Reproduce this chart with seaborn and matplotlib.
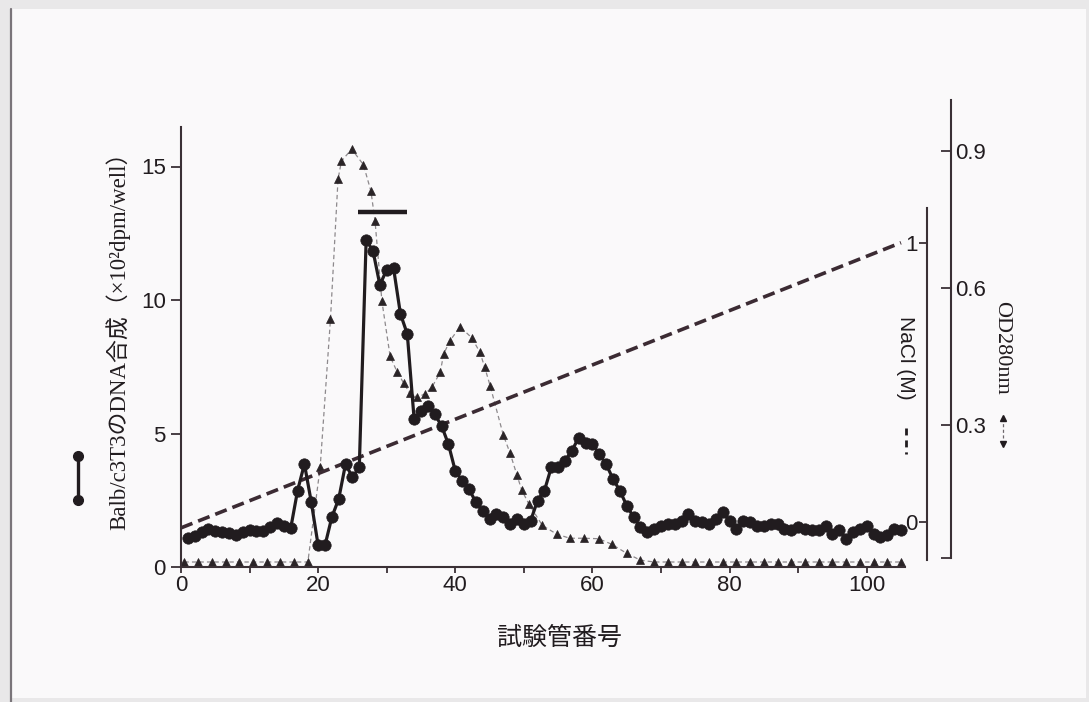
import matplotlib
matplotlib.use("Agg")
import matplotlib.pyplot as plt
from matplotlib.lines import Line2D
from matplotlib.patches import Rectangle
from matplotlib.ticker import FixedLocator, NullLocator
import seaborn as sns

# ---------------- data ----------------
tube = list(range(1, 106))
dna_synthesis = [
    1.10, 1.15, 1.30, 1.43, 1.35, 1.30, 1.28, 1.18, 1.30, 1.40,
    1.35, 1.35, 1.50, 1.66, 1.55, 1.45, 2.86, 3.86, 2.43, 0.81,
    0.81, 1.87, 2.55, 3.86, 3.36, 3.73, 12.25, 11.84, 10.57, 11.13,
    11.19, 9.48, 8.73, 5.53, 5.85, 6.03, 5.72, 5.29, 4.60, 3.60,
    3.23, 2.92, 2.43, 2.11, 1.80, 2.00, 1.87, 1.62, 1.80, 1.62,
    1.74, 2.49, 2.86, 3.73, 3.73, 3.98, 4.35, 4.85, 4.66, 4.60,
    4.23, 3.85, 3.30, 2.86, 2.30, 1.87, 1.49, 1.31, 1.43, 1.55,
    1.62, 1.62, 1.74, 1.99, 1.74, 1.68, 1.62, 1.80, 2.05, 1.74,
    1.43, 1.74, 1.68, 1.55, 1.55, 1.60, 1.62, 1.43, 1.37, 1.49,
    1.43, 1.40, 1.37, 1.55, 1.24, 1.37, 1.06, 1.31, 1.43, 1.55,
    1.24, 1.12, 1.18, 1.43, 1.37,
]

od_tube = [
    0.5, 2.5, 4.5, 6.5, 8.5, 10.5, 12.5, 14.5, 16.5, 18.5,
    20.3, 21.8, 22.9, 23.4, 24.9, 26.6, 27.7, 28.3, 29.3, 30.5,
    31.5, 32.5, 33.4, 34.4, 35.6, 36.6, 37.8, 38.3, 39.2, 40.7,
    42.4, 43.6, 44.3, 45.1, 47.0, 48.0, 49.0, 49.7, 50.7, 52.7,
    54.8, 56.7, 58.7, 60.9, 62.8, 65.0, 67.0, 69, 71, 73,
    75, 77, 79, 81, 83, 85, 87, 89, 91, 93,
    95, 97, 99, 101, 103, 105,
]
od280 = [
    0, 0, 0, 0, 0, 0, 0, 0, 0, 0,
    0.208, 0.532, 0.838, 0.878, 0.904, 0.870, 0.812, 0.746, 0.571, 0.450,
    0.417, 0.391, 0.369, 0.361, 0.368, 0.383, 0.415, 0.455, 0.484, 0.515,
    0.491, 0.459, 0.426, 0.385, 0.278, 0.238, 0.190, 0.157, 0.128, 0.080,
    0.061, 0.052, 0.052, 0.051, 0.039, 0.019, 0.004, 0, 0, 0,
    0, 0, 0, 0, 0, 0, 0, 0, 0, 0,
    0, 0, 0, 0, 0, 0,
]

nacl_tube = [0, 105]
nacl_molar = [-0.02, 1.0]

active_bar_tube = [25.8, 33.0]
active_bar_level = [13.3, 13.3]

x_ticks = [0, 20, 40, 60, 80, 100]
x_minor_ticks = [10, 30, 50, 70, 90]
y_ticks = [0, 5, 10, 15]
nacl_ticks = [0, 1]
od_ticks = [0.3, 0.6, 0.9]

xlabel_text = "試験管番号"
ylabel_text = "Balb/c3T3のDNA合成（×10²dpm/well）"
nacl_label = "NaCl (M)"
od_label = "OD280nm"

# ---------------- style ----------------
W, H = 1089, 702
INK = "#211c1f"
AXC = "#3a3035"

sns.set_style("ticks")
plt.rcParams["font.family"] = ["Liberation Sans", "Noto Sans CJK JP"]
plt.rcParams["axes.linewidth"] = 1.5


def fx(px):
    return px / W


def fy(py):
    return 1 - py / H


fig = plt.figure(figsize=(W / 100, H / 100), dpi=100)
fig.patch.set_facecolor("#e9e8e9")
fig.add_artist(Rectangle((fx(12), fy(698)), fx(1086) - fx(12), fy(9) - fy(698),
                         transform=fig.transFigure, facecolor="#faf9fa",
                         edgecolor="none", zorder=-10))
fig.add_artist(Line2D([fx(11), fx(11)], [fy(9), fy(702)], transform=fig.transFigure,
                      color="#7a757a", lw=1.6, zorder=-9))

PXU = 6.857  # pixels per tube

# main axes (DNA synthesis)
ax = fig.add_axes([fx(181), fy(567), (905 - 181) / W, (567 - 127) / H])
ax.set_xlim(0, (905 - 181) / PXU)
ax.set_ylim(0, (567 - 127) / 26.7)

# NaCl axes
ax_nacl = fig.add_axes([fx(181), fy(560), (927 - 181) / W, (560 - 208) / H])
ax_nacl.set_xlim(0, (927 - 181) / PXU)
ax_nacl.set_ylim((522.3 - 560) / 279.6, (522.3 - 208) / 279.6)

# OD axes
ax_od = fig.add_axes([fx(181), fy(558), (951 - 181) / W, (558 - 100) / H])
ax_od.set_xlim(0, (951 - 181) / PXU)
ax_od.set_ylim((562 - 558) / 456.7, (562 - 100) / 456.7)

for a, z in ((ax_od, 1), (ax_nacl, 2), (ax, 3)):
    a.set_zorder(z)
    a.patch.set_visible(False)

# ---- OD280 (triangles, thin dashed) ----
sns.lineplot(x=od_tube, y=od280, ax=ax_od, errorbar=None, sort=False,
             color="#8d898c", linewidth=0.9, linestyle=(0, (3.5, 2.5)),
             marker="^", markersize=6, markerfacecolor="#2a2427",
             markeredgecolor="#2a2427", markeredgewidth=0.5, clip_on=False)

# ---- NaCl gradient ----
sns.lineplot(x=nacl_tube, y=nacl_molar, ax=ax_nacl, errorbar=None,
             color="#3b2b33", linewidth=2.6, linestyle=(0, (3.4, 1.7)),
             clip_on=False)

# ---- DNA synthesis (circles) ----
sns.lineplot(x=tube, y=dna_synthesis, ax=ax, errorbar=None, sort=False,
             color=INK, linewidth=2.3, marker="o", markersize=8.2,
             markerfacecolor=INK, markeredgecolor=INK, markeredgewidth=0.5,
             clip_on=False)
ax.plot(active_bar_tube, active_bar_level, color=INK, lw=3.2,
        solid_capstyle="butt", clip_on=False)

# ---- main axes styling ----
for s in ("top", "right"):
    ax.spines[s].set_visible(False)
for s in ("left", "bottom"):
    ax.spines[s].set_color(AXC)
    ax.spines[s].set_linewidth(1.5)
ax.xaxis.set_major_locator(FixedLocator(x_ticks))
ax.xaxis.set_minor_locator(FixedLocator(x_minor_ticks))
ax.yaxis.set_major_locator(FixedLocator(y_ticks))
ax.yaxis.set_minor_locator(NullLocator())
ax.set_xticklabels([str(v) for v in x_ticks])
ax.set_yticklabels([str(v) for v in y_ticks])
ax.tick_params(axis="x", which="both", direction="out", length=4, width=1.3,
               color=AXC, labelsize=16, labelcolor=INK, pad=2)
ax.tick_params(axis="y", which="both", direction="out", length=7, width=1.3,
               color=AXC, labelsize=16, labelcolor=INK, pad=4)
ax.set_xlabel("")
ax.set_ylabel("")

# ---- NaCl axis styling: spine at the right end, ticks/labels on its left ----
for s in ("top", "right", "bottom"):
    ax_nacl.spines[s].set_visible(False)
ax_nacl.spines["left"].set_position(("axes", 1.0))
ax_nacl.spines["left"].set_color(AXC)
ax_nacl.spines["left"].set_linewidth(1.5)
ax_nacl.xaxis.set_major_locator(NullLocator())
ax_nacl.xaxis.set_minor_locator(NullLocator())
ax_nacl.yaxis.set_major_locator(FixedLocator(nacl_ticks))
ax_nacl.yaxis.set_minor_locator(NullLocator())
ax_nacl.set_yticklabels([str(v) for v in nacl_ticks])
ax_nacl.tick_params(axis="y", direction="out", length=6, width=1.3, color=AXC,
                    labelsize=16, labelcolor=INK, pad=1)
ax_nacl.set_xlabel("")
ax_nacl.set_ylabel("")

# ---- OD axis styling: right spine, ticks pointing inwards, labels right ----
for s in ("top", "left", "bottom"):
    ax_od.spines[s].set_visible(False)
ax_od.spines["right"].set_color(AXC)
ax_od.spines["right"].set_linewidth(1.5)
ax_od.xaxis.set_major_locator(NullLocator())
ax_od.xaxis.set_minor_locator(NullLocator())
ax_od.yaxis.tick_right()
ax_od.yaxis.set_major_locator(FixedLocator(od_ticks))
ax_od.yaxis.set_minor_locator(FixedLocator([(562 - 558) / 456.7]))
ax_od.set_yticklabels([f"{v:.1f}" for v in od_ticks])
ax_od.tick_params(axis="y", which="both", direction="in", length=7, width=1.3,
                  color=AXC, labelsize=16, labelcolor=INK, pad=3,
                  left=False, labelleft=False, right=True, labelright=True)
ax_od.set_xlabel("")
ax_od.set_ylabel("")

# ---- texts ----
fig.text(fx(559), fy(638), xlabel_text, ha="center", va="center", fontsize=18,
         color=INK, family=["Liberation Serif", "Noto Sans CJK JP"])
fig.text(fx(118), fy(335), ylabel_text, ha="center", va="center", fontsize=16.5,
         rotation=90, color=INK, family=["Liberation Serif", "Noto Sans CJK JP"])
fig.text(fx(906), fy(358), nacl_label, ha="center", va="center", fontsize=15,
         rotation=270, color=INK)
fig.text(fx(1002), fy(348), od_label, ha="center", va="center", fontsize=16,
         rotation=270, color=INK, family=["Liberation Serif"])

# ---- legend keys ----
fig.add_artist(Line2D([fx(78), fx(78)], [fy(456), fy(500)], transform=fig.transFigure,
                      color=INK, lw=2.4, marker="o", markersize=7, markerfacecolor=INK,
                      markeredgecolor=INK))
fig.add_artist(Line2D([fx(906), fx(906)], [fy(428), fy(454)], transform=fig.transFigure,
                      color=INK, lw=2.0, linestyle=(0, (2.5, 1.8))))
fig.add_artist(Line2D([fx(1003), fx(1003)], [fy(418), fy(444)], transform=fig.transFigure,
                      color="#6d676b", lw=0.9, linestyle=(0, (2.5, 2))))
fig.add_artist(Line2D([fx(1003)], [fy(418)], transform=fig.transFigure, linestyle="none",
                      marker="^", markersize=4.5, color=INK))
fig.add_artist(Line2D([fx(1003)], [fy(444)], transform=fig.transFigure, linestyle="none",
                      marker="v", markersize=4.5, color=INK))

fig.savefig("out.png", dpi=100, facecolor=fig.get_facecolor())
